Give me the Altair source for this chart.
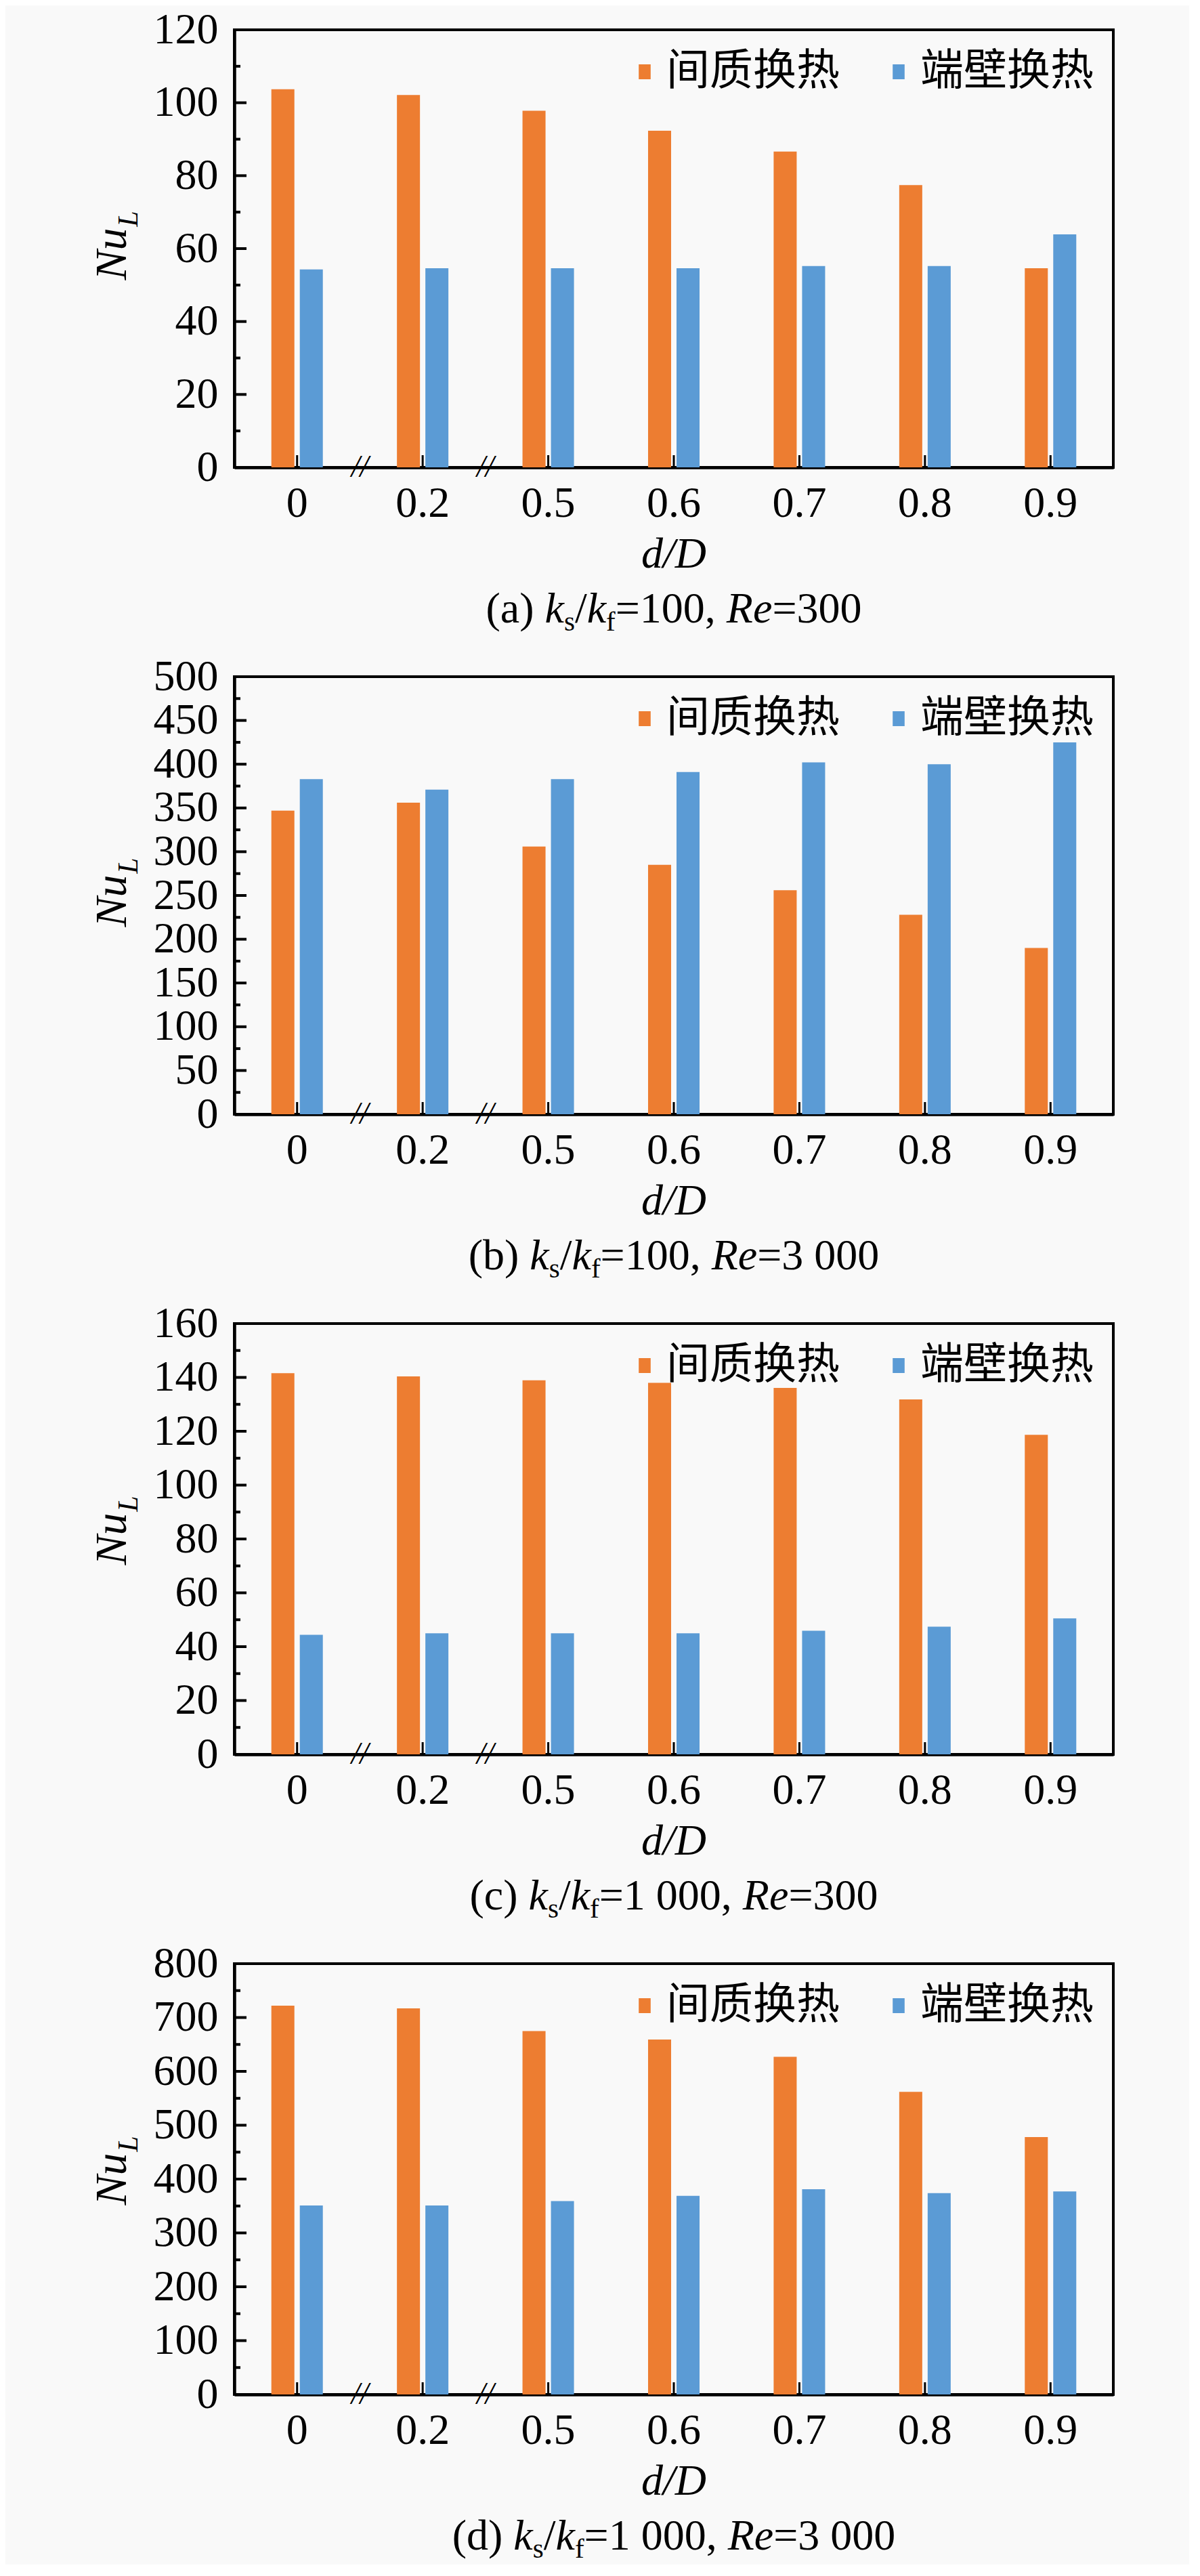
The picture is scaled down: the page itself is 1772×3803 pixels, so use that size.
import altair as alt
import pandas as pd

# ---------------- data ----------------
categories = ["0", "0.2", "0.5", "0.6", "0.7", "0.8", "0.9"]
series = ["间质换热", "端壁换热"]
colors = ["#ED7D31", "#5B9BD5"]

a_inter = [103.7, 102.1, 97.8, 92.3, 86.6, 77.4, 54.6]
a_wall = [54.3, 54.6, 54.6, 54.6, 55.2, 55.2, 63.9]
b_inter = [347, 356, 306, 285, 256, 228, 190]
b_wall = [383, 371, 383, 391, 402, 400, 425]
c_inter = [141.6, 140.4, 138.9, 138.0, 136.1, 131.8, 118.7]
c_wall = [44.4, 45.0, 45.0, 45.0, 45.9, 47.4, 50.5]
d_inter = [722, 717, 675, 659, 627, 562, 478]
d_wall = [351, 351, 359, 369, 381, 374, 377]

a_major = [0, 20, 40, 60, 80, 100, 120]
a_minor = [10, 30, 50, 70, 90, 110]
b_major = [0, 50, 100, 150, 200, 250, 300, 350, 400, 450, 500]
b_minor = [25, 75, 125, 175, 225, 275, 325, 375, 425, 475]
c_major = [0, 20, 40, 60, 80, 100, 120, 140, 160]
c_minor = [10, 30, 50, 70, 90, 110, 130, 150]
d_major = [0, 100, 200, 300, 400, 500, 600, 700, 800]
d_minor = [50, 150, 250, 350, 450, 550, 650, 750]

break_after = ["0", "0.2"]

# subtitle pieces: (text, style)  n = normal, i = italic, s = subscript
a_title = [("(a) ", "n"), ("k", "i"), ("s", "s"), ("/", "n"), ("k", "i"), ("f", "s"),
           ("=100, ", "n"), ("Re", "i"), ("=300", "n")]
b_title = [("(b) ", "n"), ("k", "i"), ("s", "s"), ("/", "n"), ("k", "i"), ("f", "s"),
           ("=100, ", "n"), ("Re", "i"), ("=3 000", "n")]
c_title = [("(c) ", "n"), ("k", "i"), ("s", "s"), ("/", "n"), ("k", "i"), ("f", "s"),
           ("=1 000, ", "n"), ("Re", "i"), ("=300", "n")]
d_title = [("(d) ", "n"), ("k", "i"), ("s", "s"), ("/", "n"), ("k", "i"), ("f", "s"),
           ("=1 000, ", "n"), ("Re", "i"), ("=3 000", "n")]

# ---------------- style ----------------
SERIF = "Liberation Serif"
CJK = "Noto Sans CJK SC"
W = 1298
FS = 64
SUB = 41

W_REG = {" ": 250, "(": 333, ")": 333, "a": 444, "b": 500, "c": 444, "d": 500,
         "s": 389, "f": 333, "/": 278, "=": 564, ",": 250}
W_IT = {"k": 444, "R": 611, "e": 444}


def txt_width(s, style):
    size = SUB if style == "s" else FS
    table = W_IT if style == "i" else W_REG
    return sum(table.get(ch, 500) for ch in s) / 1000.0 * size


def text_layer(t, x, y, size, italic=False, angle=0, align="left", baseline="alphabetic", font=SERIF):
    kw = dict(font=font, fontSize=size, color="black", align=align, baseline=baseline)
    if italic:
        kw["fontStyle"] = "italic"
    if angle:
        kw["angle"] = angle
    return alt.Chart(pd.DataFrame({"t": [t]})).mark_text(**kw).encode(
        text="t:N", x=alt.value(x), y=alt.value(y)
    )


def panel(inter, wall, major, minor, parts, H, nu_dy):
    df = pd.DataFrame({
        "cat": categories * 2,
        "series": [series[0]] * len(categories) + [series[1]] * len(categories),
        "value": inter + wall,
    })
    ymax = major[-1]
    xscale = alt.Scale(domain=categories, paddingInner=0.59, paddingOuter=0.295)
    yscale = alt.Scale(domain=[0, ymax], nice=False, zero=True)

    bars = alt.Chart(df).mark_bar().encode(
        x=alt.X("cat:N", sort=categories, scale=xscale,
                axis=alt.Axis(title=None, labelAngle=0, labelFont=SERIF, labelFontSize=FS,
                              labelColor="black", labelPadding=21, ticks=False, tickSize=0,
                              domainColor="black", domainWidth=4.5, grid=False,
                              labelOverlap=False)),
        xOffset=alt.XOffset("series:N", sort=series,
                            scale=alt.Scale(domain=series, paddingInner=0.19, paddingOuter=0)),
        y=alt.Y("value:Q", scale=yscale,
                axis=alt.Axis(title=None, values=major, labelFont=SERIF, labelFontSize=FS,
                              labelColor="black", labelPadding=24, ticks=False, tickSize=0,
                              domainColor="black", domainWidth=4.5, grid=False,
                              labelOverlap=False, labelFlush=False)),
        color=alt.Color("series:N", scale=alt.Scale(domain=series, range=colors),
                        legend=alt.Legend(title=None, orient="none", legendX=561, legendY=30,
                                          direction="horizontal",
                                          symbolType="M-0.8,-1H0.8V1H-0.8Z", symbolSize=484,
                                          symbolOffset=13,
                                          symbolStrokeWidth=0, labelFont=CJK, labelFontSize=64,
                                          labelColor="black", labelOffset=0, columnPadding=42,
                                          padding=0, labelLimit=0)),
    )

    maj = alt.Chart(pd.DataFrame({"value": major})).mark_rule(color="black", strokeWidth=4).encode(
        y=alt.Y("value:Q", scale=yscale), x=alt.value(0), x2=alt.value(18))
    mnr = alt.Chart(pd.DataFrame({"value": minor})).mark_rule(color="black", strokeWidth=4).encode(
        y=alt.Y("value:Q", scale=yscale), x=alt.value(0), x2=alt.value(9))
    xt = alt.Chart(pd.DataFrame({"cat": categories})).mark_rule(color="black", strokeWidth=3).encode(
        x=alt.X("cat:N", sort=categories, scale=xscale), y=alt.value(H), y2=alt.value(H - 18))
    brk = alt.Chart(pd.DataFrame({"cat": break_after, "t": ["//"] * len(break_after)})).mark_text(
        font=SERIF, fontSize=46, fontStyle="italic", dx=W / 14, align="center",
        baseline="middle", color="black").encode(
        x=alt.X("cat:N", sort=categories, scale=xscale), y=alt.value(H), text="t:N")

    layers = [bars, maj, mnr, xt, brk]
    # y title Nu_L
    layers.append(text_layer("Nu", -180, H / 2 + nu_dy, 66, italic=True, angle=270,
                             align="center", baseline="middle"))
    layers.append(text_layer("L", -156, H / 2 + nu_dy - 52, 42, italic=True, angle=270,
                             align="center", baseline="middle"))
    # x title d/D
    layers.append(text_layer("d/D", W / 2, H + 148, FS, italic=True, align="center"))
    # subtitle
    total = sum(txt_width(s, st) for s, st in parts)
    x = W / 2 - total / 2
    base = H + 229
    for s, st in parts:
        if st == "s":
            layers.append(text_layer(s, x, base + 12, SUB))
        else:
            layers.append(text_layer(s, x, base, FS, italic=(st == "i")))
        x += txt_width(s, st)

    return alt.layer(*layers).properties(width=W, height=H)


pa = panel(a_inter, a_wall, a_major, a_minor, a_title, 646, 8)
pb = panel(b_inter, b_wall, b_major, b_minor, b_title, 646, 8)
pc = panel(c_inter, c_wall, c_major, c_minor, c_title, 636, 0)
pd_ = panel(d_inter, d_wall, d_major, d_minor, d_title, 636, 0)

chart = alt.vconcat(pa, pb, pc, pd_, spacing=24).resolve_scale(
    color="independent", x="independent", y="independent"
).resolve_legend(color="independent").properties(
    padding={"left": 123, "top": 2, "right": 110, "bottom": 0},
    background="#f9f9f9",
).configure_view(stroke="black", strokeWidth=4)

chart.save("out.html", embed_options={"renderer": "svg", "actions": False})
